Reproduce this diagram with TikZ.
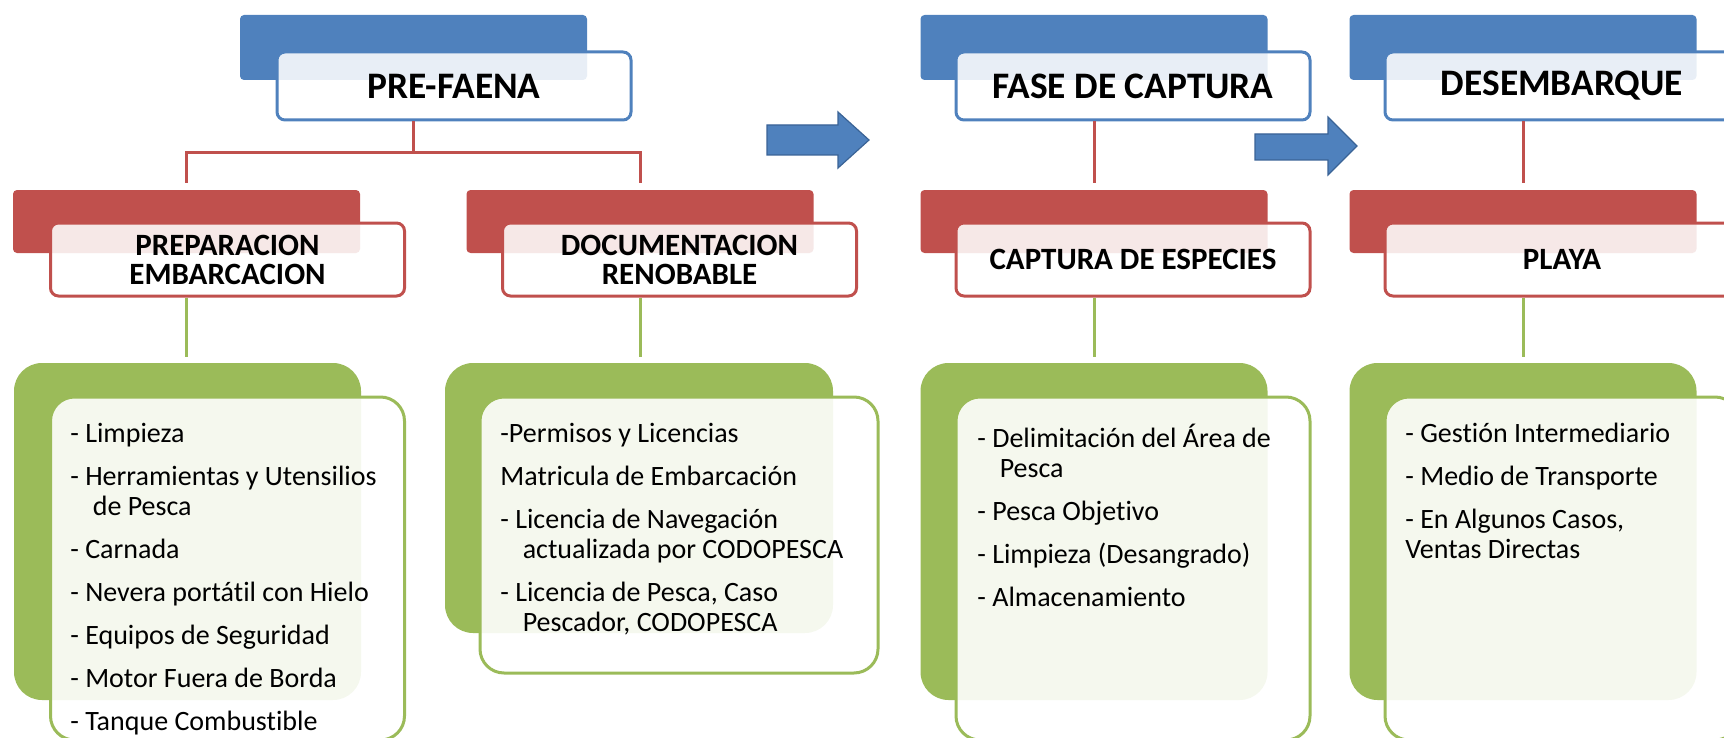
\documentclass[tikz,border=0pt]{standalone}
\usepackage{fontspec}
\setmainfont{Carlito}[Ligatures=NoCommon]
\definecolor{phaseblue}{HTML}{4F81BD}
\definecolor{taskred}{HTML}{C0504D}
\definecolor{itemgreen}{HTML}{9BBB59}
\definecolor{arrowedge}{HTML}{3A6396}
\newcommand{\listgap}{6.5pt}
\newcommand{\listindent}{\hspace*{0.8em}}

\begin{document}
\begin{tikzpicture}[x=0.5pt, y=-0.5pt,
        every node/.style={inner sep=0pt},
        backbox/.style={rectangle, rounded corners=2pt, fill=#1, minimum width=173.5pt},
        frontbox/.style={rectangle, rounded corners=4pt, draw=#1, line width=1.5pt, fill=white, fill opacity=0.87, text opacity=1, minimum width=177pt, align=center},
        phasetitle/.style={font=\fontsize{18.7}{20}\selectfont\bfseries},
        tasktitle/.style={font=\fontsize{15.5}{14.5}\selectfont\bfseries},
        listback/.style={rectangle, rounded corners=14pt, fill=itemgreen, minimum width=173.5pt},
        listfront/.style={rectangle, rounded corners=12pt, draw=itemgreen, line width=1.5pt, fill=white, fill opacity=0.9, minimum width=177pt},
        itemlist/.style={anchor=north west, align=left, font=\fontsize{14}{15}\selectfont},
        redline/.style={draw=taskred, line width=1.5pt},
        greenline/.style={draw=itemgreen, line width=1.5pt},
        bigarrow/.style={fill=phaseblue, draw=arrowedge, line width=0.6pt, line join=miter}
    ]
    \clip (0,0) rectangle (1724,738);
%
    % PRE-FAENA
    \node[backbox=phaseblue, minimum height=32.5pt] (preback) at (413.5,47.5) {};
    \node[frontbox=phaseblue, minimum height=34pt, phasetitle] (prefront) at (454,86) {PRE-FAENA};
    \node[backbox=taskred, minimum height=31.5pt] (prepback) at (186.5,221.5) {};
    \node[frontbox=taskred, minimum height=36.5pt, tasktitle] (prepfront) at (227.5,259.5) {PREPARACION\\EMBARCACION};
    \node[backbox=taskred, minimum height=31.5pt] (docback) at (640,221.5) {};
    \node[frontbox=taskred, minimum height=36.5pt, tasktitle] (docfront) at (679.5,259.5) {DOCUMENTACION\\RENOBABLE};
    \node[listback, minimum height=168.5pt] (prepgback) at (187.5,531.5) {};
    \node[listfront, minimum height=171.5pt] (prepgfront) at (227.5,568.5) {};
    \node[listback, minimum width=194pt, minimum height=135pt] (docgback) at (639,498) {};
    \node[listfront, minimum width=199pt, minimum height=138pt] (docgfront) at (679,535) {};
%
    \node[itemlist] (preplist) at (70,423) {- Limpieza\\[\listgap]
        - Herramientas y Utensilios\\\listindent de Pesca\\[\listgap]
        - Carnada\\[\listgap]
        - Nevera portátil con Hielo\\[\listgap]
        - Equipos de Seguridad\\[\listgap]
        - Motor Fuera de Borda\\[\listgap]
        - Tanque Combustible};
    \node[itemlist] (doclist) at (500,423) {-Permisos y Licencias\\[\listgap]
        Matricula de Embarcación\\[\listgap]
        - Licencia de Navegación\\\listindent actualizada por CODOPESCA\\[\listgap]
        - Licencia de Pesca, Caso\\\listindent Pescador, CODOPESCA};
%
    % FASE DE CAPTURA
    \node[backbox=phaseblue, minimum height=32.5pt] (capback) at (1094,47.5) {};
    \node[frontbox=phaseblue, minimum height=34pt, phasetitle] (capfront) at (1133,86) {FASE DE CAPTURA};
    \node[backbox=taskred, minimum height=31.5pt] (espback) at (1094,221.5) {};
    \node[frontbox=taskred, minimum height=36.5pt, tasktitle] (espfront) at (1133,259.5) {CAPTURA DE ESPECIES};
    \node[listback, minimum height=168.5pt] (espgback) at (1094,531.5) {};
    \node[listfront, minimum height=171.5pt] (espgfront) at (1133,568.5) {};
    \node[itemlist] (esplist) at (977,424) {- Delimitación del Área de\\\listindent Pesca\\[\listgap]
        - Pesca Objetivo\\[\listgap]
        - Limpieza (Desangrado)\\[\listgap]
        - Almacenamiento};
%
    % DESEMBARQUE
    \node[backbox=phaseblue, minimum height=32.5pt] (desback) at (1523,47.5) {};
    \node[frontbox=phaseblue, minimum height=34pt, phasetitle] (desfront) at (1562,86) {DESEMBARQUE};
    \node[backbox=taskred, minimum height=31.5pt] (playaback) at (1523,221.5) {};
    \node[frontbox=taskred, minimum height=36.5pt, tasktitle] (playafront) at (1562,259.5) {PLAYA};
    \node[listback, minimum height=168.5pt] (playagback) at (1523,531.5) {};
    \node[listfront, minimum height=171.5pt] (playagfront) at (1562,568.5) {};
    \node[itemlist] (playalist) at (1405,423) {- Gestión Intermediario\\[\listgap]
        - Medio de Transporte\\[\listgap]
        - En Algunos Casos,\\Ventas Directas};
%
    % connectors
    \coordinate (split) at (413.5,153);
    \draw[redline] (preback |- prefront.south) -- (split);
    \draw[redline, shorten >=3.5pt] (split) -| (prepback.north);
    \draw[redline, shorten >=3.5pt] (split) -| (docback.north);
    \draw[redline, shorten >=3.5pt] (capback |- capfront.south) -- (espback.north);
    \draw[redline, shorten >=3.5pt] (desback |- desfront.south) -- (playaback.north);
    \draw[greenline, shorten >=3pt] (prepback |- prepfront.south) -- (prepback |- prepgback.north);
    \draw[greenline, shorten >=3pt] (docback |- docfront.south) -- (docback |- docgback.north);
    \draw[greenline, shorten >=3pt] (espback |- espfront.south) -- (espback |- espgback.north);
    \draw[greenline, shorten >=3pt] (playaback |- playafront.south) -- (playaback |- playagback.north);
%
    % block arrows between phases
    \draw[bigarrow] (767,125) -- (838,125) -- (838,112) -- (869,140) -- (838,168) -- (838,155) -- (767,155) -- cycle;
    \draw[bigarrow] (1255,134) -- (1328,134) -- (1328,117) -- (1357,146) -- (1328,175) -- (1328,160) -- (1255,160) -- cycle;
\end{tikzpicture}
\end{document}
